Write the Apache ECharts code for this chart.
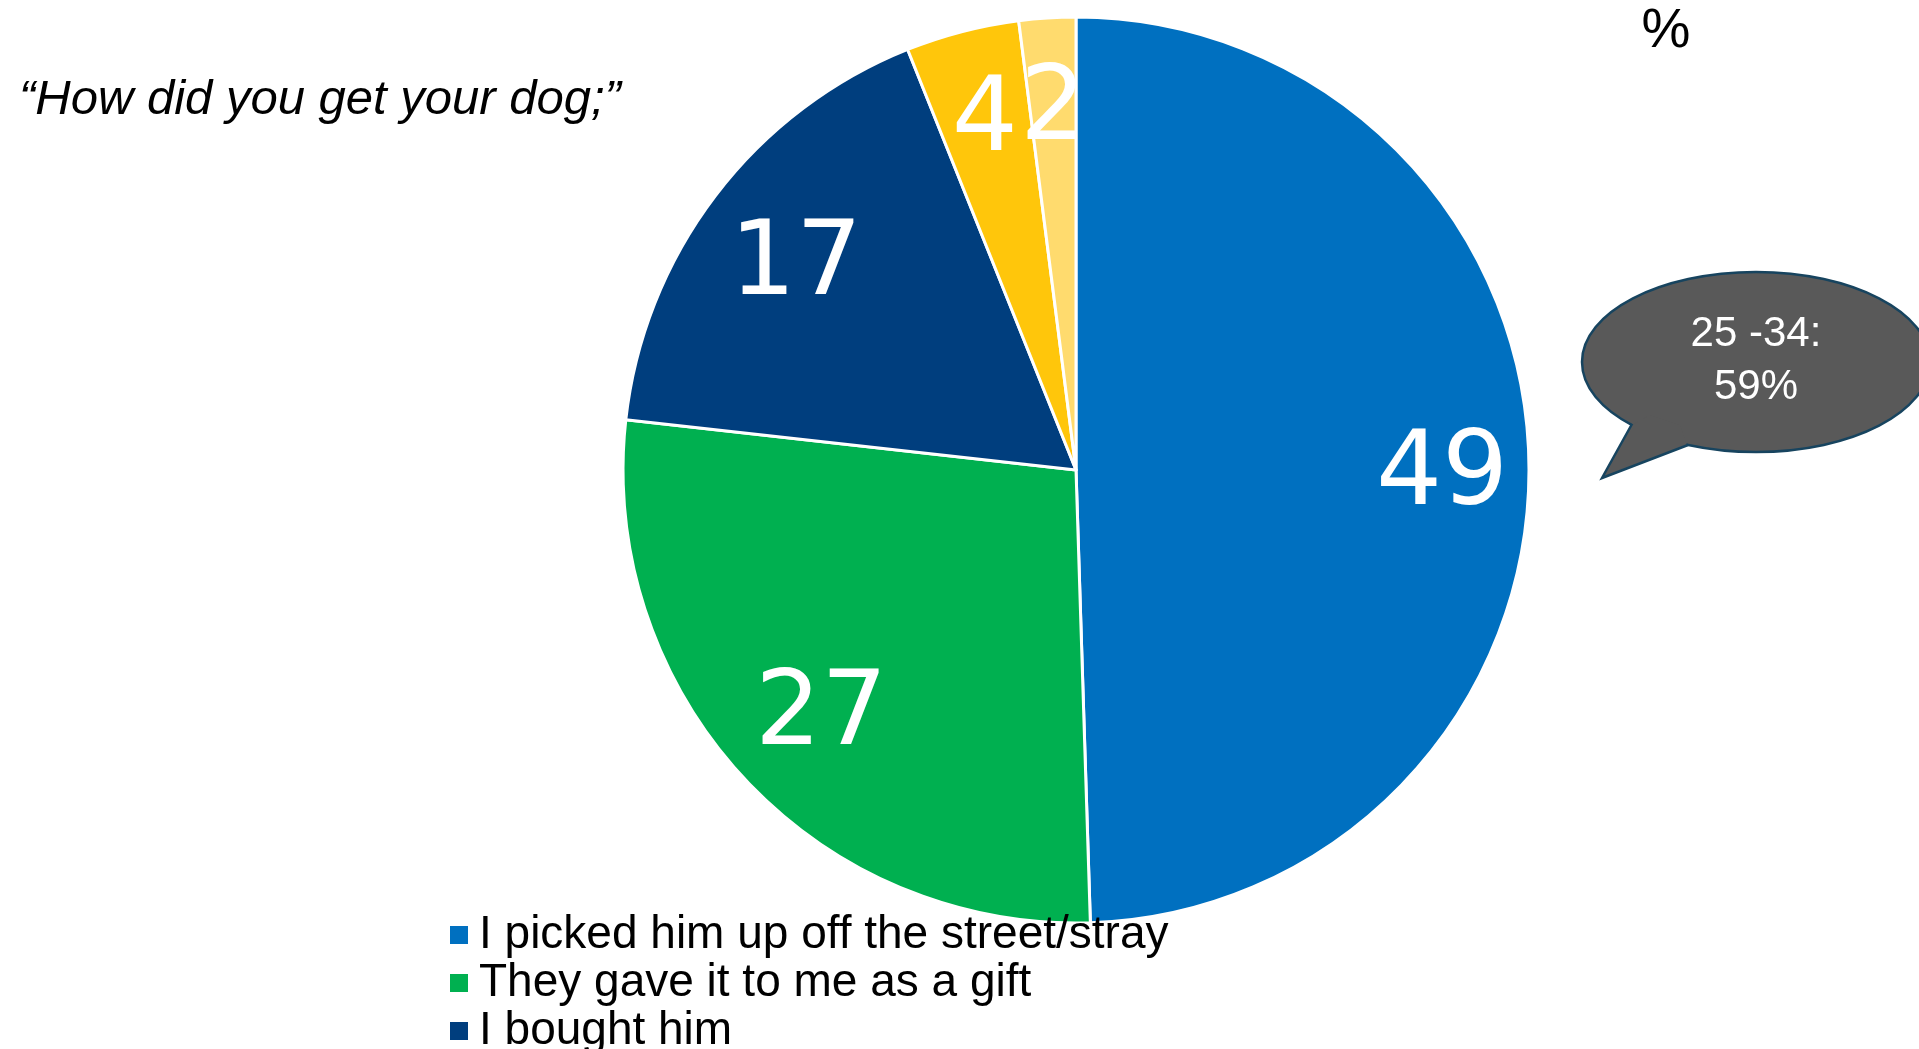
<!DOCTYPE html>
<html>
<head>
<meta charset="utf-8">
<script src="https://cdn.jsdelivr.net/npm/echarts@6/dist/echarts.min.js"></script>
<style>
html,body{margin:0;padding:0;background:#fff;}
#chart{width:1919px;height:1049px;}
</style>
</head>
<body>
<div id="chart"></div>
<script>
const categories = ['I picked him up off the street/stray', 'They gave it to me as a gift', 'I bought him', 'Category 4', 'Category 5'];
const values = [49, 27, 17, 4, 2];
const colors = ['#0070C0', '#00B050', '#003E7E', '#FFC60B', '#FFDB6E'];
const legendNames = ['I picked him up off the street/stray', 'They gave it to me as a gift', 'I bought him'];
const titleText = '\u201CHow did you get your dog;\u201D';
const unitText = '%';
const bubbleText = '25 -34:\n59%';

// label nudges (style only): [down px, right px]
const labelNudge = [[13, 3], [0, 12], [17, 9], [4, 0], [4, 0]];

const cx = 1076, cy = 470, R = 453;

const chart = echarts.init(document.getElementById('chart'), null, {renderer: 'canvas'});

const sliceData = categories.map((n, i) => ({name: n, value: values[i], itemStyle: {color: colors[i]}}));
const labelData = categories.map((n, i) => ({
  name: n, value: values[i],
  label: {
    padding: [0, 0, 0, labelNudge[i][1] * 2],
    rich: {sp: {fontSize: 1, lineHeight: Math.max(1, labelNudge[i][0] * 2)}}
  }
}));

chart.setOption({
  animation: false,
  backgroundColor: '#ffffff',
  title: {
    text: titleText,
    left: 14,
    top: 71,
    textStyle: {
      fontFamily: 'Liberation Sans',
      fontStyle: 'italic',
      fontWeight: 'normal',
      fontSize: 49,
      color: '#000'
    }
  },
  legend: {
    data: legendNames,
    orient: 'vertical',
    left: 443,
    top: 906,
    height: 170,
    itemWidth: 20,
    itemHeight: 20,
    itemGap: 0,
    icon: 'rect',
    selectedMode: false,
    textStyle: {
      fontFamily: 'Liberation Sans',
      fontSize: 46,
      lineHeight: 48,
      color: '#000',
      padding: [0, 0, 0, 5]
    }
  },
  series: [
    {
      type: 'pie',
      center: [cx, cy],
      radius: [0, R],
      startAngle: 90,
      clockwise: true,
      silent: true,
      data: sliceData,
      label: {show: false},
      labelLine: {show: false},
      itemStyle: {borderColor: '#ffffff', borderWidth: 3},
      emphasis: {disabled: true}
    },
    {
      type: 'pie',
      center: [cx, cy],
      radius: [R * 0.59, R],
      startAngle: 90,
      clockwise: true,
      silent: true,
      data: labelData,
      itemStyle: {color: 'rgba(0,0,0,0)', borderWidth: 0},
      label: {
        show: true,
        position: 'inside',
        formatter: '{sp| }\n{v|{c}}',
        color: '#ffffff',
        fontFamily: 'DejaVu Sans',
        fontSize: 104,
        rich: {
          v: {color: '#ffffff', fontFamily: 'DejaVu Sans', fontSize: 104, lineHeight: 110}
        }
      },
      labelLine: {show: false},
      emphasis: {disabled: true}
    }
  ],
  graphic: [
    {
      type: 'text',
      x: 1666,
      y: 32,
      style: {text: unitText, fill: '#000', font: '55px "Liberation Sans"', align: 'center', verticalAlign: 'middle'}
    },
    {
      type: 'ellipse',
      shape: {cx: 1756, cy: 362, rx: 174, ry: 90},
      style: {fill: '#595959', stroke: '#17445F', lineWidth: 2.5},
      z: 10
    },
    {
      type: 'polygon',
      shape: {points: [[1632, 425], [1602, 478], [1687, 445], [1680, 425], [1650, 415]]},
      style: {fill: '#595959', stroke: null},
      z: 11
    },
    {
      type: 'polyline',
      shape: {points: [[1632, 424], [1602, 478], [1688, 445]]},
      style: {stroke: '#17445F', lineWidth: 2.5, fill: null},
      z: 12
    },
    {
      type: 'text',
      x: 1756,
      y: 361,
      style: {
        text: bubbleText,
        fill: '#ffffff',
        font: '42px "Liberation Sans"',
        align: 'center',
        verticalAlign: 'middle',
        lineHeight: 53
      },
      z: 13
    }
  ]
});
</script>
</body>
</html>
